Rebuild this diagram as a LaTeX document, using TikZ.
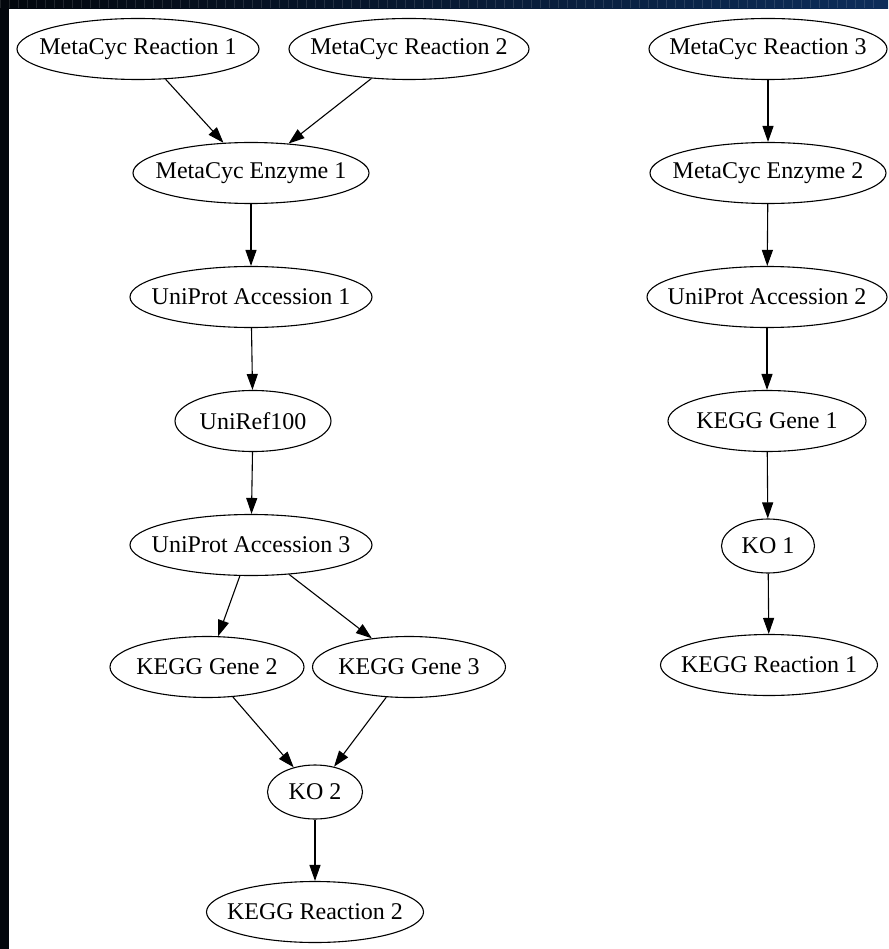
\documentclass[tikz,border=0pt]{standalone}
\usepackage{fontspec}
\setmainfont{Liberation Serif}
\usetikzlibrary{shapes.geometric,arrows.meta}
\definecolor{bandL}{HTML}{03070D}
\definecolor{bandR}{HTML}{0C2D5A}
\newcommand{\lbl}[1]{\makebox[0pt]{#1}}
\tikzset{
  nd/.style={ellipse, draw, line width=1.1pt, inner sep=0pt, minimum height=61pt,
    font=\fontsize{24}{28}\selectfont},
  edge/.style={line width=1.1pt, -{Triangle[length=16pt,width=11pt]}}
}
\begin{document}
\begin{tikzpicture}[x=1pt,y=-1pt]
\useasboundingbox (0,0) rectangle (888,949);
\fill[bandL] (0,0) rectangle (888,949);
\shade[left color=bandL, right color=bandR] (9,0) rectangle (888,9);
\foreach \i in {0,9,...,880} {\draw[white,opacity=0.12,line width=0.6pt] (\i,0) -- (\i,8);}
\fill[white] (9,9) rectangle (888,949);

\node[nd, minimum width=242pt] (mr1) at (138,49) {\lbl{MetaCyc Reaction 1}};
\node[nd, minimum width=240pt] (mr2) at (409,49) {\lbl{MetaCyc Reaction 2}};
\node[nd, minimum width=238pt] (mr3) at (768,49) {\lbl{MetaCyc Reaction 3}};
\node[nd, minimum width=236pt] (me1) at (251,173) {\lbl{MetaCyc Enzyme 1}};
\node[nd, minimum width=236pt] (me2) at (768,173) {\lbl{MetaCyc Enzyme 2}};
\node[nd, minimum width=242pt] (ua1) at (251,297) {\lbl{UniProt Accession 1}};
\node[nd, minimum width=240pt] (ua2) at (767,297) {\lbl{UniProt Accession 2}};
\node[nd, minimum width=156pt] (ur) at (253,421) {\lbl{UniRef100}};
\node[nd, minimum width=198pt] (kg1) at (767,421) {\lbl{KEGG Gene 1}};
\node[nd, minimum width=242pt] (ua3) at (251,545) {\lbl{UniProt Accession 3}};
\node[nd, minimum width=93pt, minimum height=54pt] (ko1) at (768,546) {\lbl{KO 1}};
\node[nd, minimum width=194pt] (kg2) at (207,667) {\lbl{KEGG Gene 2}};
\node[nd, minimum width=193pt] (kg3) at (409,667) {\lbl{KEGG Gene 3}};
\node[nd, minimum width=217pt] (kr1) at (769,665) {\lbl{KEGG Reaction 1}};
\node[nd, minimum width=95pt, minimum height=54pt] (ko2) at (315,792) {\lbl{KO 2}};
\node[nd, minimum width=217pt] (kr2) at (315,912) {\lbl{KEGG Reaction 2}};

\draw[edge] (mr1) -- (me1);
\draw[edge] (mr2) -- (me1);
\draw[edge] (me1) -- (ua1);
\draw[edge] (ua1) -- (ur);
\draw[edge] (ur) -- (ua3);
\draw[edge] (ua3) -- (kg2);
\draw[edge] (ua3) -- (kg3);
\draw[edge] (kg2) -- (ko2);
\draw[edge] (kg3) -- (ko2);
\draw[edge] (ko2) -- (kr2);
\draw[edge] (mr3) -- (me2);
\draw[edge] (me2) -- (ua2);
\draw[edge] (ua2) -- (kg1);
\draw[edge] (kg1) -- (ko1);
\draw[edge] (ko1) -- (kr1);
\end{tikzpicture}
\end{document}
